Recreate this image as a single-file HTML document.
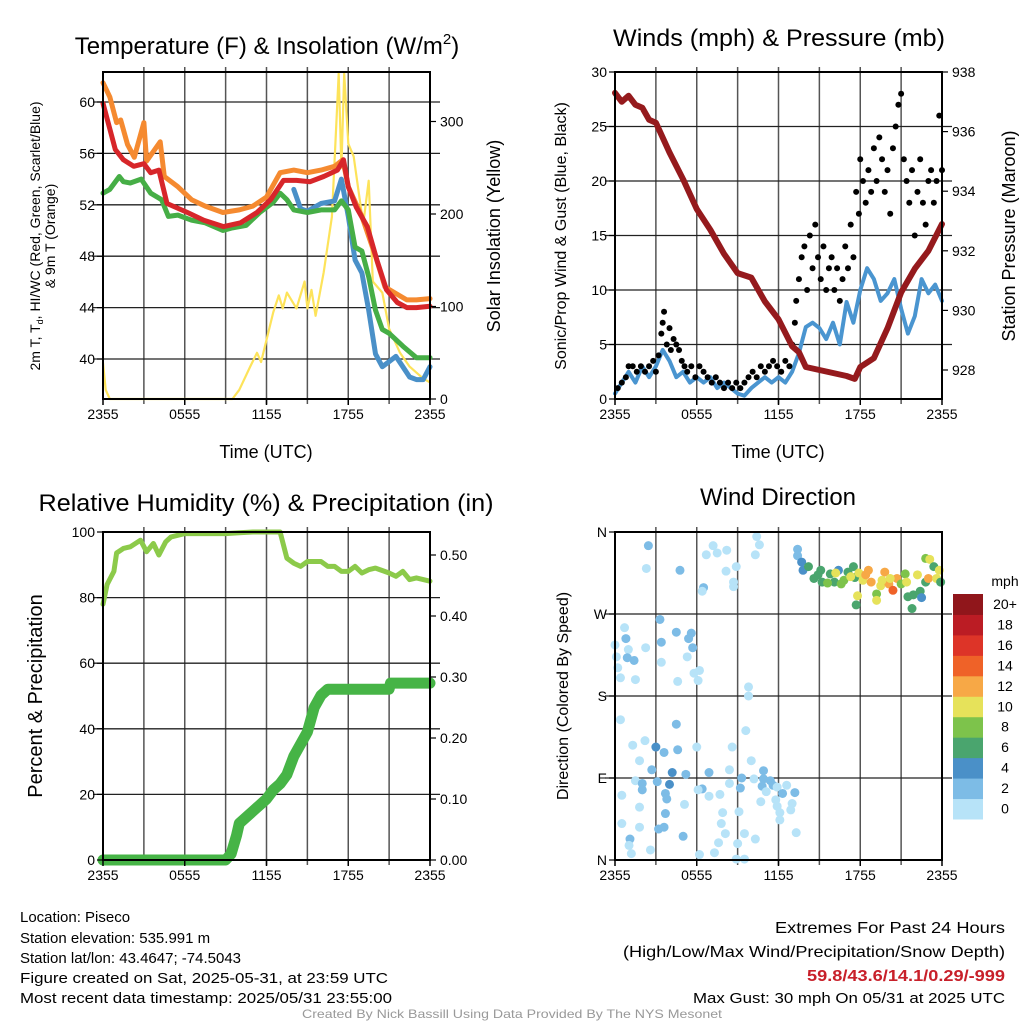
<!DOCTYPE html>
<html><head><meta charset="utf-8"><style>
html,body{margin:0;padding:0;background:#fff;width:1024px;height:1024px;overflow:hidden}
svg{font-family:"Liberation Sans",sans-serif;display:block}
</style></head><body>
<svg id="root" width="1024" height="1024" viewBox="0 0 1024 1024" xmlns="http://www.w3.org/2000/svg">
<g font-size="15" fill="#000">
<text x="20" y="922">Location: Piseco</text>
<text x="20" y="943">Station elevation: 535.991 m</text>
<text x="20" y="963">Station lat/lon: 43.4647; -74.5043</text>
<text x="20" y="983" textLength="368" lengthAdjust="spacingAndGlyphs">Figure created on Sat, 2025-05-31, at 23:59 UTC</text>
<text x="20" y="1003" textLength="372" lengthAdjust="spacingAndGlyphs">Most recent data timestamp: 2025/05/31 23:55:00</text>
<text x="1005" y="933" text-anchor="end" font-size="16" textLength="230" lengthAdjust="spacingAndGlyphs">Extremes For Past 24 Hours</text>
<text x="1005" y="957" text-anchor="end" font-size="16" textLength="382" lengthAdjust="spacingAndGlyphs">(High/Low/Max Wind/Precipitation/Snow Depth)</text>
<text x="1005" y="981" text-anchor="end" font-size="16" font-weight="bold" fill="#c8202a" textLength="198" lengthAdjust="spacingAndGlyphs">59.8/43.6/14.1/0.29/-999</text>
<text x="1005" y="1003" text-anchor="end" font-size="15" textLength="312" lengthAdjust="spacingAndGlyphs">Max Gust: 30 mph On 05/31 at 2025 UTC</text>
<text x="512" y="1018" text-anchor="middle" font-size="12" fill="#999" textLength="420" lengthAdjust="spacingAndGlyphs">Created By Nick Bassill Using Data Provided By The NYS Mesonet</text>
</g>
</svg>
<script>
// ---------- DATA ----------
const xTickLabels = ["2355","0555","1155","1755","2355"];
const tempT  = [0,0.9,1.5,2.25,3,3.5,4.1,4.7,6.2,7.4,8.85,10.1,11.3,12.3,13.25,14.2,15.2,16.2,17.2,17.65,18,18.6,19.4,20.1,20.8,21.6,22.3,23,24];
const tempV  = [59.9,56.3,55.5,55,55.2,54.5,54.7,52.1,51.4,50.8,50.3,50.6,51.4,52.4,53.9,53.9,53.8,54.2,54.7,55.5,53.4,51.8,50.3,47.7,45.4,44.4,44,44,44.1];
const t9T    = [0,0.5,1,1.3,1.8,2.3,3,3.2,4.2,4.5,5.5,6.5,7.5,8.8,10,11,12,13,14,15,16,17,17.6,18,19,20,20.7,21.5,22.3,23,24];
const t9V    = [61.5,60.4,58.4,58.6,56.7,55.7,58.4,55.4,56.9,54.2,53.4,52.4,51.9,51.4,51.6,51.9,52.6,54.5,54.7,54.5,54.7,55,55.5,53.4,51.1,48,45.6,45.1,44.6,44.6,44.7];
const dewT   = [0,0.5,1.2,1.5,2,2.8,3.5,4.3,4.8,5.5,6.5,7.5,8.8,9.5,10.5,11.5,12.5,13,13.5,14,15,16,17,17.5,18,18.5,19,19.5,20,20.5,21,22,23,24];
const dewV   = [52.9,53.2,54.2,53.8,53.7,54,52.9,52.4,51.1,51.2,50.8,50.6,50,50.2,50.4,51.4,52.2,52.9,52.4,51.6,51.4,51.6,51.6,52.3,51.6,48.7,48.4,46.4,43.8,42.3,42,41,40.1,40.1];
const hiwcT  = [14,14.5,15,16,17,17.5,18,18.5,19,19.5,20,20.5,21,21.5,22,22.5,23,23.5,24];
const hiwcV  = [53.2,51.7,51.5,52.1,52.3,54,51.1,47.7,46.7,43.8,40.4,39.4,39.8,40.2,39.4,38.6,38.4,38.4,39.4];
const solT   = [0,0.2,0.5,9.5,10,10.8,11.3,11.6,12.5,12.9,13.2,13.5,14.2,14.8,15,15.3,15.6,16.2,16.8,17,17.3,17.5,17.7,18,18.4,19.1,19.5,19.8,20.5,21,21.8,22.5,23.5,24];
const solV   = [39,10,0,0,10,35,50,40,94,112,98,115,98,127,98,118,90,137,197,258,352,250,352,276,262,189,236,127,115,76,50,35,22,18];

const presT  = [0,0.5,1,1.5,2,2.5,3,4,5,6,7,8,9,10,11,12,13,13.5,14,15,16,17,17.6,18,19,20,21,22,23,24];
const presV  = [937.3,937.0,937.2,936.9,936.8,936.4,936.3,935.3,934.4,933.4,932.7,931.9,931.25,931.1,930.3,929.7,928.8,928.6,928.1,928,927.9,927.8,927.7,928.1,928.4,929.4,930.6,931.4,932,932.9];
const windT  = [0,0.5,1,1.5,2,2.5,3,3.5,4,4.5,5,5.5,6,6.5,7,7.5,8,8.5,9,9.5,10,10.5,11,11.5,12,12.5,13,13.5,14,14.5,15,15.5,16,16.5,17,17.5,18,18.5,19,19.5,20,20.5,21,21.5,22,22.5,23,23.5,24];
const windV  = [0.5,1.5,2.5,1.5,3,2,3,4.5,3.5,2,2.5,1.5,2,1.5,2,1,1.5,1,0.5,0.3,1,1.5,2,1.5,2,1.5,2.5,4.2,6.6,7,6.5,5.5,7,5,8.9,7,10,12,11,9,9.7,11,8.3,6,7.6,11,9.7,10.5,9];
const gustT  = [0.2,0.5,0.8,1.0,1.3,1.6,1.9,2.2,2.5,2.8,3.0,3.2,3.4,3.5,3.6,3.8,4.0,4.1,4.3,4.5,4.7,4.9,5.1,5.3,5.6,5.9,6.2,6.5,6.8,7.1,7.4,7.7,8.0,8.3,8.6,8.9,9.2,9.5,9.8,10.1,10.4,10.7,11.0,11.3,11.6,11.9,12.2,12.5,12.8,13.0,13.2,13.3,13.5,13.7,13.9,14.1,14.3,14.5,14.7,14.9,15.1,15.3,15.5,15.7,15.9,16.1,16.3,16.5,16.7,16.9,17.1,17.3,17.5,17.7,17.9,18.0,18.2,18.4,18.6,18.8,19.0,19.2,19.4,19.6,19.8,20.0,20.2,20.4,20.6,20.8,21.0,21.2,21.4,21.6,21.8,22.0,22.2,22.4,22.6,22.8,23.0,23.2,23.4,23.6,23.8,24];
const gustV  = [1,1.5,2,3,3,2.5,3,2.5,3,3.5,2.5,4,6,7,8,5,6.5,4.5,5.5,5,4.5,3.5,3,2.5,3,2,3,2.5,2,1.5,2,1.5,1,1.5,1,1.5,1,1.5,2,2.5,2,3,2.5,3,3.5,3,2.5,3.5,3,5,7,9,11,13,14,10,15,12,16,13,11,14,10,12,13,10,12,9,11,14,12,16,13,19,17,22,20,18,21,19,23,20,24,22,19,21,17,23,25,27,28,22,20,18,21,15,19,22,18,16,20,21,18,20,26,21];

const rhT    = [0,0.3,0.8,1,1.5,2,2.75,3.2,3.7,4.1,4.6,5,6,7,8,9,10,11,12,13,13.5,14,14.5,15,16,16.5,17,17.5,18,18.5,19,19.5,20,21,21.5,22,22.5,23,24];
const rhV    = [78,84,88,93.6,95,95.5,97.5,94,96.5,93,97,98.5,99.5,99.5,99.5,99.5,99.8,100,100,100,92,90.5,89.5,91,91,89.5,89.5,88,88,89.5,87.5,88.5,89,87.5,86.5,88,85.5,86,85];
const pcpT   = [0,9,9.4,9.8,10,11,12,12.5,13,13.5,14,15,15.5,16,16.5,17.3,21,21.1,24];
const pcpV   = [0,0,0.01,0.04,0.06,0.08,0.10,0.115,0.125,0.14,0.17,0.21,0.25,0.27,0.28,0.28,0.28,0.29,0.29];

const dirT = [2.45,2.3,4.77,7.2,6.7,7.5,8.2,6.5,6.4,8.15,8.9,8.7,8.7,10.4,10.6,10.3,3.3,0.7,0.8,0,0.98,0.1,0.9,1.4,0.2,0.4,1.5,2.25,3.4,3.4,4.5,5.4,5.6,5.7,5.3,5.8,6.2,4.6,6.1,9.8,9.8,0.4,1.3,2.2,3,3.6,4.5,4.6,1.8,2.7,4.2,4.0,5.2,1.5,2,2,3.1,3.7,3.8,0.5,1.8,3.7,0.5,1.8,3.2,3.6,1.1,1.03,1.2,2.6,5,5.1,6,6.9,6.4,6.1,6.9,7.7,7.9,7.8,8.1,7.6,7.3,6.2,8.4,8.6,8.4,9.0,8.9,9.5,9.5,10.3,9.1,9.3,9.2,9.6,10.0,10.2,10.9,10.9,11.4,10.8,11.6,11.1,11.9,12.3,12.6,13.2,11.8,11.9,12.1,12.1,13.0,12.9,13.3,10.7,13.4,13.4,13.7,13.8,14.2,14.6,15.1,15.2,15.8,16.1,16.4,16.2,16.8,17.1,17.5,17.6,17.9,17.8,17.7,18.2,18.6,18.8,19.2,19.2,19.5,19.8,20.1,20.4,20.7,21.0,21.3,21.5,21.9,21.8,22.4,22.5,22.8,23.1,22.8,23.0,23.4,23.6,23.8,23.9,22.2,21.4,20.2,18.4,17.3,15.6,14.9,16.6,19.6];
const dirD = [345,320,318,345,335,337,340,299,295,317,322,305,300,355,346,335,264,255,243,236,231,223,222,219,211,200,198,233,239,217,250,243,249,233,223,205,208,196,197,190,180,154,126,131,124,118,149,121,109,99,96,83,94,87,84,77,86,73,67,71,58,51,40,36,34,36,23,16,7,11,26,61,124,96,78,77,70,72,52,40,29,19,8,6,99,124,84,18,1,1,29,23,53,90,79,142,109,89,98,89,87,81,82,75,80,73,82,74,66,59,52,44,62,55,30,64,341,334,327,318,322,309,318,305,314,305,318,315,307,316,322,310,315,290,280,307,318,305,292,285,301,316,303,296,309,303,314,289,291,276,295,288,331,330,305,309,322,309,318,305,313,305,309,313,311,304,313,303,307];
const dirS = [3,1,3,1,1,1,1,3,1,1,1,1,1,1,1,1,3,1,3,1,1,1,3,3,1,1,1,1,3,1,3,3,3,3,1,1,1,1,1,1,1,1,1,1,4,3,3,3,1,3,4,4,3,1,3,3,3,3,3,1,1,3,1,1,3,3,3,1,1,1,3,1,1,3,3,1,1,1,1,1,1,1,1,1,1,1,1,1,1,1,1,1,1,3,3,1,1,1,3,3,3,3,3,1,1,3,1,3,1,1,1,1,1,1,1,1,3,3,4,4,6,7,6,6,7,7,4,10,8,7,6,6,10,10,6,10,12,12,8,10,10,12,12,14,12,8,8,6,7,6,7,4,8,10,6,12,6,10,10,6,10,10,10,12,10,8,7,8,10];

const cbarLabels = ["0","2","4","6","8","10","12","14","16","18","20+"];
const cbarColors = ["#b7e3f8","#7dbce6","#4a90c8","#4aa56e","#7dc34b","#e6e25a","#f7a846","#ef6228","#dd3428","#bb1c24","#90161b"];

// ---------- HELPERS ----------
const NS="http://www.w3.org/2000/svg";
const root=document.getElementById('root');
function mk(tag,attrs,parent){const e=document.createElementNS(NS,tag);for(const k in attrs)e.setAttribute(k,attrs[k]);(parent||root).appendChild(e);return e;}
function txt(s,attrs,parent){const e=mk('text',attrs,parent);e.textContent=s;return e;}

function panel(name,L,T,R,B){
  const g=mk('g',{});
  
  
  return {g,L,T,R,B,x:t=>L+t/24*(R-L)};
}
function frame(p,vg,hys){
  for(let i=1;i<8;i++){const x=p.L+i*(p.R-p.L)/8;const l=mk('line',{x1:x,x2:x,y1:p.T-5,y2:p.B+5,stroke:'#555','stroke-width':1.5},p.g);
    
    }
  for(const y of hys){const l=mk('line',{x1:p.L-10,x2:p.R+10,y1:y,y2:y,stroke:'#222','stroke-width':1.3},p.g);
    
    }
}
function border(p){
  const r=mk('rect',{x:p.L,y:p.T,width:p.R-p.L,height:p.B-p.T,fill:'none',stroke:'#000','stroke-width':2},p.g);
  
  
  xTickLabels.forEach((s,i)=>{const x=p.L+i*(p.R-p.L)/4;
    const t=txt(s,{x:x,y:p.B+20,'text-anchor':'middle','font-size':14},p.g);
    
    
    mk('line',{x1:x,x2:x,y1:p.B,y2:p.B+6,stroke:'#000','stroke-width':1.5},p.g);});
}
function line(p,T,V,ys,color,w,name){
  const pts=T.map((t,i)=>p.x(t).toFixed(1)+','+ys(V[i]).toFixed(1)).join(' ');
  const l=mk('polyline',{points:pts,fill:'none',stroke:color,'stroke-width':w,'stroke-linejoin':'round','stroke-linecap':'round'},p.g);
  
  
}
function yTicks(p,vals,ys,fmt,side,name){
  vals.forEach(v=>{const y=ys(v);
    const x=side==='L'?p.L-8:p.R+10;
    const t=txt(fmt(v),{x:x,y:y+5,'text-anchor':side==='L'?'end':'start','font-size':14},p.g);
    
    
    mk('line',{x1:side==='L'?p.L-6:p.R,x2:side==='L'?p.L:p.R+6,y1:y,y2:y,stroke:'#000','stroke-width':1.2},p.g);});
}
function title(s,x,y,name,fs,len){const a={x:x,y:y,'text-anchor':'middle','font-size':fs||22};
  if(len){a.textLength=len;a.lengthAdjust='spacingAndGlyphs';}
  const t=txt(s,a,root);
  
  return t;}
function vtitle(s,x,y,name,fs){const t=txt(s,{x:0,y:0,'text-anchor':'middle','font-size':fs||18,transform:`translate(${x},${y}) rotate(-90)`},root);
  
  return t;}

// ---------- PANEL 1 ----------
const p1=panel('temperature-panel',103,72,430,399);
const yT=v=>102+(60-v)*12.85;
const yS=v=>399-v*0.925;
frame(p1,true,[40,44,48,52,56,60].map(yT));
line(p1,solT,solV,yS,'#fde35a',2.2,'solar-line');
line(p1,hiwcT,hiwcV,yT,'#4a90c8',5,'hiwc-line');
line(p1,dewT,dewV,yT,'#46ae46',5,'dewpoint-line');
line(p1,t9T,t9V,yT,'#f58a30',5,'temp-9m-line');
line(p1,tempT,tempV,yT,'#d7262a',5,'temp-2m-line');
border(p1);
yTicks(p1,[40,44,48,52,56,60],yT,v=>String(v),'L','temp-tick-label');
yTicks(p1,[0,100,200,300],yS,v=>String(v),'R','solar-tick-label');
const t1=title('',267,54,'temperature-title',24);
t1.innerHTML='Temperature (F) &amp; Insolation (W/m<tspan dy="-10" font-size="15">2</tspan><tspan dy="10">)</tspan>';
title('Time (UTC)',266,458,'temperature-x-title',18);
const vt1=vtitle('',0,0,'temperature-y-title',14);
vt1.setAttribute('transform','translate(40,236) rotate(-90)');
vt1.innerHTML='<tspan x="0" dy="0">2m T, T<tspan font-size="9" dy="3">d</tspan><tspan dy="-3">, HI/WC (Red, Green, Scarlet/Blue)</tspan></tspan><tspan x="0" dy="15">&amp; 9m T (Orange)</tspan>';
vtitle('Solar Insolation (Yellow)',500,236,'solar-y-title');

// ---------- PANEL 2 ----------
const p2=panel('winds-panel',615,72,942,399);
const yW=v=>399-v*10.9;
const yP=v=>370-(v-928)*29.8;
frame(p2,true,[5,10,15,20,25].map(yW));
line(p2,windT,windV,yW,'#4a95d0',4,'wind-speed-line');
gustT.forEach((t,i)=>{const c=mk('circle',{cx:p2.x(t),cy:yW(gustV[i]),r:3,fill:'#000'},p2.g);
  
  });
line(p2,presT,presV,yP,'#951a1d',6,'pressure-line');
border(p2);
yTicks(p2,[0,5,10,15,20,25,30],yW,v=>String(v),'L','wind-tick-label');
yTicks(p2,[928,930,932,934,936,938],yP,v=>String(v),'R','pressure-tick-label');
title('Winds (mph) & Pressure (mb)',779,46,'winds-title',24,332);
title('Time (UTC)',778,458,'winds-x-title',18);
vtitle('Sonic/Prop Wind & Gust (Blue, Black)',566,236,'wind-y-title',16);
vtitle('Station Pressure (Maroon)',1015,236,'pressure-y-title');

// ---------- PANEL 3 ----------
const p3=panel('humidity-panel',103,532,430,860);
const yR=v=>860-v*3.28;
const yQ=v=>860-v*610;
frame(p3,true,[20,40,60,80].map(yR));
line(p3,rhT,rhV,yR,'#8cca4a',5,'rh-line');
line(p3,pcpT,pcpV,yQ,'#46b446',11,'precip-line');
border(p3);
yTicks(p3,[0,20,40,60,80,100],yR,v=>String(v),'L','rh-tick-label');
yTicks(p3,[0,0.1,0.2,0.3,0.4,0.5],yQ,v=>v.toFixed(2),'R','precip-tick-label');
title('Relative Humidity (%) & Precipitation (in)',266,511,'humidity-title',24,455);
vtitle('Percent & Precipitation',42,696,'humidity-y-title',20);

// ---------- PANEL 4 ----------
const p4=panel('wind-direction-panel',615,532,942,860);
const yD=v=>860-v/360*328;
frame(p4,true,[90,180,270].map(yD));
const colorFor=s=>cbarColors[Math.min(10,Math.floor(s/2))];
dirT.forEach((t,i)=>{const c=mk('circle',{cx:p4.x(t),cy:yD(dirD[i]),r:4.5,fill:colorFor(dirS[i])},p4.g);
  
  });
border(p4);
yTicks(p4,[0,90,180,270,360],yD,v=>({0:'N',90:'E',180:'S',270:'W',360:'N'})[v],'L','direction-tick-label');
title('Wind Direction',778,505,'wind-direction-title',24);
vtitle('Direction (Colored By Speed)',568,696,'direction-y-title',16);
const cb=mk('g',{});


const cbTop=594,cbH=225/11;
cbarColors.forEach((c,i)=>{const y=cbTop+(10-i)*cbH;
  const r=mk('rect',{x:953,y:y,width:30,height:cbH+0.5,fill:c},cb);
  
  
  const t=txt(cbarLabels[i],{x:1005,y:y+15,'text-anchor':'middle','font-size':14},cb);
  
  });
const cbt=txt('mph',{x:1005,y:586,'text-anchor':'middle','font-size':14},cb);


</script>
</body></html>
